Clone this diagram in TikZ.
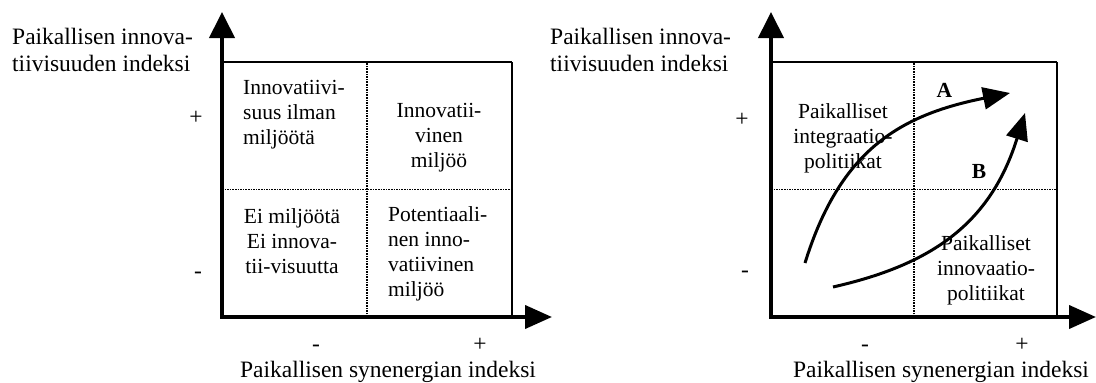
\documentclass[tikz,border=0pt]{standalone}
\usepackage{fontspec}
\setmainfont{Liberation Serif}
\usetikzlibrary{arrows.meta,calc,positioning}

\begin{document}
\begin{tikzpicture}[x=1pt,y=-1pt,
        axisline/.style={line width=4pt,line join=miter,
            {Triangle[length=26pt,width=25pt]}-{Triangle[length=27pt,width=23pt]}},
        rim/.style={line width=2.5pt},
        side/.style={line width=1.4pt},
        divider/.style={line width=1.8pt,dash pattern=on 1.6pt off 1pt},
        route/.style={line width=3pt,-{Triangle[length=27pt,width=22pt]}},
        big/.style={font=\fontsize{23.5}{27.5}\selectfont,inner sep=0pt},
        cell/.style={font=\fontsize{21.5}{25}\selectfont,inner sep=0pt},
        sign/.style={big,anchor=base}]
        \useasboundingbox (0,0) rectangle (1096,383);
        % left panel
        \coordinate (o1) at (222,317);
        \coordinate (t1) at (222,12);
        \coordinate (r1) at (552,317);
        \coordinate (k1) at (512,62);
        \draw[rim] (o1 |- k1) -- (k1);
        \draw[side] (k1) -- (k1 |- o1);
        \draw[divider] ($(o1)!0.5!(o1 -| k1)$) -- ($(o1 |- k1)!0.5!(k1)$);
        \draw[divider] ($(o1)!0.5!(o1 |- k1)$) -- ($(o1 -| k1)!0.5!(k1)$);
        \draw[axisline] (t1) -- (o1) -- (r1);
        \node[big,anchor=north west,align=left] (ylab1) at (12,27.5) {Paikallisen innova-\\tiivisuuden indeksi};
        \node[big,anchor=north] (xlab1) at (388,361) {Paikallisen synenergian indeksi};
        \node[sign] (yp1) at (196,124) {+};
        \node[sign] (ym1) at (198,278) {-};
        \node[sign] (xm1) at (316,351) {-};
        \node[sign] (xp1) at (480,351) {+};
        \node[cell,anchor=north west,align=left] (ca1) at (243,80) {Innovatiivi-\\suus ilman\\miljöötä};
        \node[cell,anchor=north,align=center] (cb1) at (439,103) {Innovatii-\\vinen\\miljöö};
        \node[cell,anchor=north,align=center] (cc1) at (292,208) {Ei miljöötä\\Ei innova-\\tii-visuutta};
        \node[cell,anchor=north west,align=left] (cd1) at (388,206) {Potentiaali-\\nen inno-\\vatiivinen\\miljöö};
        % right panel
        \coordinate (o2) at (771,317);
        \coordinate (t2) at (771,12);
        \coordinate (r2) at (1096,317);
        \coordinate (k2) at (1057,62);
        \draw[rim] (o2 |- k2) -- (k2);
        \draw[side] (k2) -- (k2 |- o2);
        \draw[divider] ($(o2)!0.5!(o2 -| k2)$) -- ($(o2 |- k2)!0.5!(k2)$);
        \draw[divider] ($(o2)!0.5!(o2 |- k2)$) -- ($(o2 -| k2)!0.5!(k2)$);
        \draw[axisline] (t2) -- (o2) -- (r2);
        \node[big,anchor=north west,align=left] (ylab2) at (550,27.5) {Paikallisen innova-\\tiivisuuden indeksi};
        \node[big,anchor=north] (xlab2) at (941,361) {Paikallisen synenergian indeksi};
        \node[sign] (yp2) at (742,126) {+};
        \node[sign] (ym2) at (745,277) {-};
        \node[sign] (xm2) at (865,351) {-};
        \node[sign] (xp2) at (1022,351) {+};
        \node[cell,anchor=north,align=center] (ca2) at (843,103) {Paikalliset\\integraatio-\\politiikat};
        \node[cell,anchor=north,align=center] (cd2) at (986,235) {Paikalliset\\innovaatio-\\politiikat};
        \node[cell,font=\fontsize{21.5}{25}\selectfont\bfseries] (la) at (944.5,90) {A};
        \node[cell,font=\fontsize{21.5}{25}\selectfont\bfseries] (lb) at (979,171) {B};
        \coordinate (a0) at (805,263);
        \coordinate (a1) at (1010,93);
        \coordinate (b0) at (833,287);
        \coordinate (b1) at (1025,113);
        \draw[route] (a0) .. controls (840,150) and (900,115) .. (a1);
        \draw[route] (b0) .. controls (930,265) and (990,225) .. (b1);
\end{tikzpicture}
\end{document}
